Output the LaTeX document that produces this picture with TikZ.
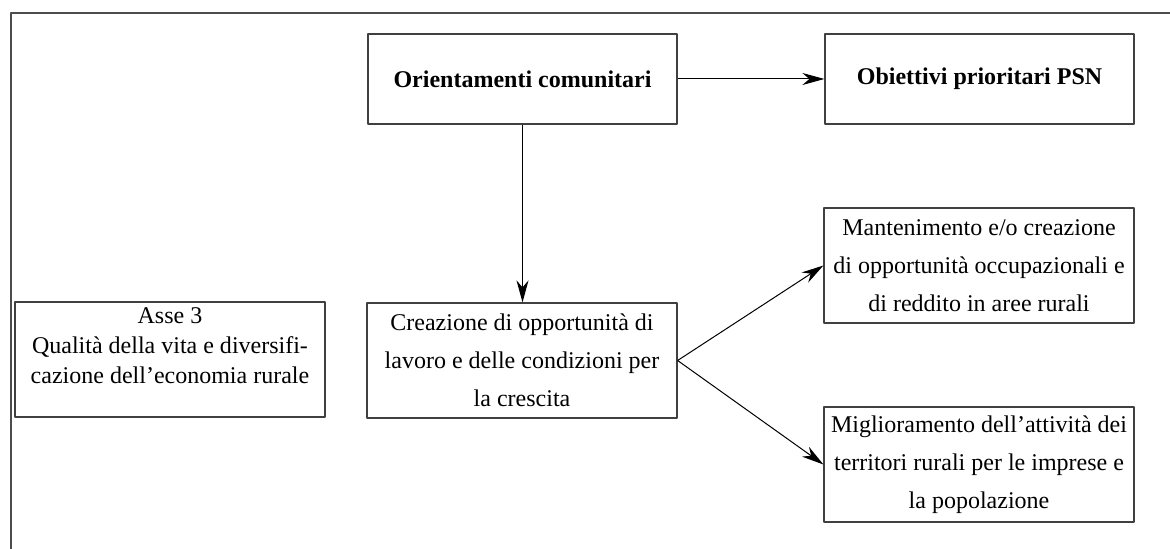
\documentclass[tikz,border=0pt]{standalone}
\usepackage{fontspec}
\setmainfont{Liberation Serif}
\usetikzlibrary{arrows.meta}
\tikzset{
  box/.style={draw=black!75,line width=0.6pt,align=center,inner sep=0pt,
    minimum width=155pt,minimum height=57.5pt,
    font=\fontsize{12}{19}\selectfont},
  headbox/.style={box,minimum height=45pt,font=\fontsize{12}{19}\selectfont\bfseries}
}
\begin{document}
\begin{tikzpicture}[x=0.5pt,y=-0.5pt,>={Stealth[length=11pt,width=6pt,inset=3.5pt]},line join=round]
\useasboundingbox (0,0) rectangle (1170,549);
% cornice
\draw[black!70,line width=0.75pt] (1170,13) -- (11,13) -- (11,549);
% riga in alto
\node[headbox,minimum width=154.5pt] (orient) at (522.5,79) {\raisebox{-3pt}{Orientamenti comunitari}};
\node[headbox,minimum width=154.5pt] (obiett) at (979.5,79) {Obiettivi prioritari PSN};
% riga centrale
\node[box] (asse) at (170,359.5) {};
\node[align=center,inner sep=0pt,font=\fontsize{12}{15}\selectfont] (assetxt) at (170,346)
  {Asse 3\\Qualità della vita e diversifi-\\cazione dell’economia rurale};
\node[box] (creaz) at (522,360.5) {Creazione di opportunità di\\lavoro e delle condizioni per\\la crescita};
% a destra
\node[box] (mant) at (979,265.5) {Mantenimento e/o creazione\\di opportunità occupazionali e\\di reddito in aree rurali};
\node[box] (migl) at (979,464.5) {Miglioramento dell’attività dei\\territori rurali per le imprese e\\la popolazione};
% frecce
\draw[->,line width=0.5pt] (orient.east) -- (obiett.west);
\draw[->,line width=0.5pt] (orient.south) -- (orient.south |- creaz.north);
\draw[->,line width=0.5pt] (creaz.east) -- (mant.west);
\draw[->,line width=0.5pt] (creaz.east) -- (migl.west);
\end{tikzpicture}
\end{document}
